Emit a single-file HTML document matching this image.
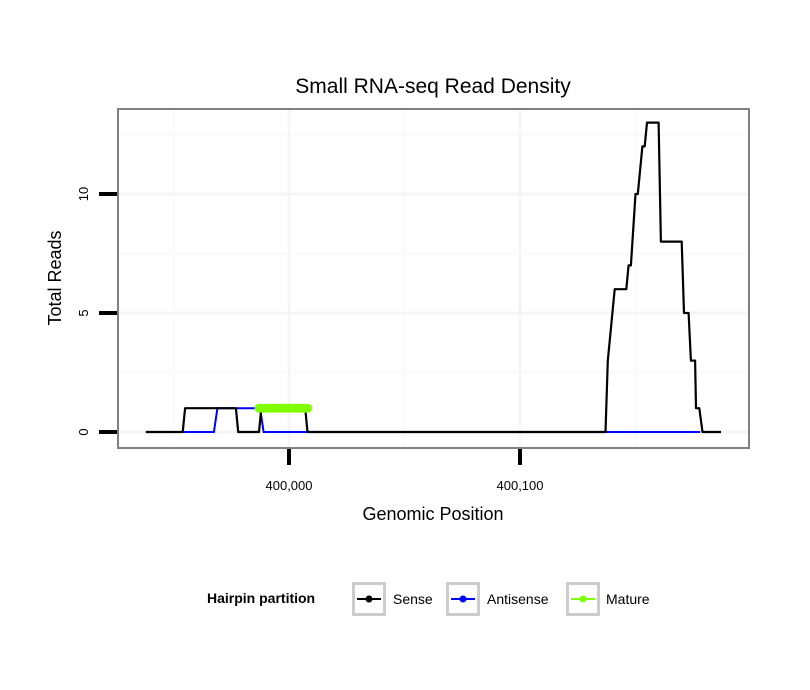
<!DOCTYPE html>
<html><head><meta charset="utf-8"><style>
body{margin:0;background:#fff}
svg{display:block;font-family:"Liberation Sans",sans-serif}
</style></head><body>
<svg id="c" width="810" height="690" viewBox="0 0 810 690">
<rect width="810" height="690" fill="#fff"/>
<text x="433" y="93" text-anchor="middle" font-size="21">Small RNA-seq Read Density</text>
<g id="grid"></g>
<g id="series"></g>
<rect x="118" y="109" width="631" height="339" fill="none" stroke="#808080" stroke-width="2"/>
<g id="axes"></g>
<text x="433" y="520" text-anchor="middle" font-size="18">Genomic Position</text>
<text transform="translate(61,278) rotate(-90)" text-anchor="middle" font-size="18">Total Reads</text>
<g>
<text x="207" y="603" font-size="14" font-weight="bold">Hairpin partition</text>
<g>
<rect x="353.5" y="583.5" width="31" height="31" fill="#fff" stroke="#ccc" stroke-width="3"/>
<line x1="357" y1="599" x2="381" y2="599" stroke="#000" stroke-width="2"/><circle cx="369" cy="599" r="3.5" fill="#000"/>
<text x="393" y="604" font-size="14">Sense</text></g>
<g>
<rect x="447.5" y="583.5" width="31" height="31" fill="#fff" stroke="#ccc" stroke-width="3"/>
<line x1="451" y1="599" x2="475" y2="599" stroke="#0000ff" stroke-width="2"/><circle cx="463" cy="599" r="3.5" fill="#0000ff"/>
<text x="487" y="604" font-size="14">Antisense</text></g>
<g>
<rect x="567.5" y="583.5" width="31" height="31" fill="#fff" stroke="#ccc" stroke-width="3"/>
<line x1="571" y1="599" x2="595" y2="599" stroke="#7fff00" stroke-width="2"/><circle cx="583" cy="599" r="3.5" fill="#7fff00"/>
<text x="606" y="604" font-size="14">Mature</text></g>
</g>
</svg>
<script>
// positions are offsets from 400,000
const senseX = [-62,-46,-45,-23,-22,-13,-12,7,8,137,138,141,146,147,148,150,151,153,154,155,160,161,170,171,173,174,175.8,176.2,177.6,179,187];
const senseY = [0,0,1,1,0,0,1,1,0,0,3,6,6,7,7,10,10,12,12,13,13,8,8,5,5,3,3,1,1,0,0];
const antiX = [-46,-32.5,-31,-12.5,-11,178];
const antiY = [0,0,1,1,0,0];
const matureX = [-13,-12,-11,-10,-9,-8,-7,-6,-5,-4,-3,-2,-1,0,1,2,3,4,5,6,7,8];
const matureY = [1,1,1,1,1,1,1,1,1,1,1,1,1,1,1,1,1,1,1,1,1,1];
const yTicks = [0,5,10];
const yMinor = [2.5,7.5,12.5];
const xTicks = [0,100];
const xTickLabels = ["400,000","400,100"];
const xMinor = [-50,50,150];

const NS="http://www.w3.org/2000/svg";
const sx = d => 289 + d*2.31;
const sy = v => 432 - v*23.8;
function mk(tag, attrs, parent){const e=document.createElementNS(NS,tag);for(const k in attrs)e.setAttribute(k,attrs[k]);parent.appendChild(e);return e;}
const grid=document.getElementById('grid'), series=document.getElementById('series'), axes=document.getElementById('axes');
mk('rect',{x:118,y:109,width:631,height:339,fill:'#fff'},grid);
yMinor.forEach(v=>{const l=mk('line',{x1:118,x2:749,y1:sy(v),y2:sy(v),stroke:'#fafafa','stroke-width':2},grid);

});
xMinor.forEach(d=>{const l=mk('line',{x1:sx(d),x2:sx(d),y1:109,y2:448,stroke:'#fafafa','stroke-width':2},grid);

});
yTicks.forEach(v=>{const l=mk('line',{x1:118,x2:749,y1:sy(v),y2:sy(v),stroke:'#f5f5f5','stroke-width':3},grid);

});
xTicks.forEach(d=>{const l=mk('line',{x1:sx(d),x2:sx(d),y1:109,y2:448,stroke:'#f5f5f5','stroke-width':3},grid);

});

function path(xs,ys){return xs.map((x,i)=>(i?'L':'M')+sx(x).toFixed(1)+','+sy(ys[i]).toFixed(1)).join(' ');}
const a=mk('path',{d:path(antiX,antiY),fill:'none',stroke:'#0000ff','stroke-width':2},series);


const s=mk('path',{d:path(senseX,senseY),fill:'none',stroke:'#000','stroke-width':2.2,'stroke-linejoin':'round'},series);


const m=mk('path',{d:path(matureX,matureY),fill:'none',stroke:'#7fff00','stroke-width':8},series);


matureX.forEach((x,i)=>{const c=mk('circle',{cx:sx(x),cy:sy(matureY[i]),r:4.5,fill:'#7fff00'},series);

});

yTicks.forEach(v=>{const l=mk('line',{x1:99,x2:117,y1:sy(v),y2:sy(v),stroke:'#000','stroke-width':4},axes);


const t=mk('text',{transform:`translate(88,${sy(v)}) rotate(-90)`,'text-anchor':'middle','font-size':13},axes);
t.textContent=v;

});
xTicks.forEach((d,i)=>{const l=mk('line',{x1:sx(d),x2:sx(d),y1:449,y2:465,stroke:'#000','stroke-width':4},axes);


const t=mk('text',{x:sx(d),y:490,'text-anchor':'middle','font-size':13},axes);
t.textContent=xTickLabels[i];

});
</script>
</body></html>
